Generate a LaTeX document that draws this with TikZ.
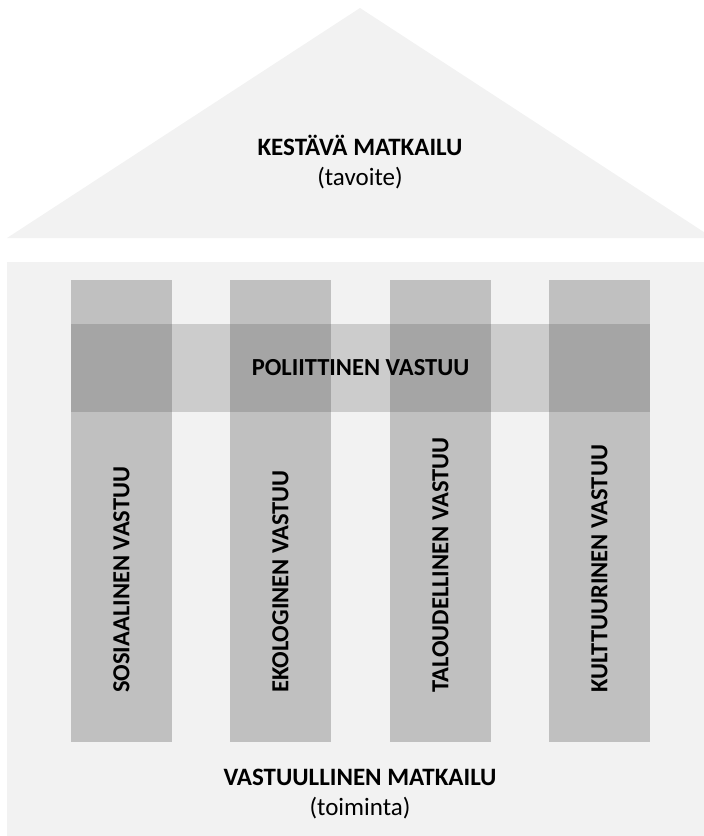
\documentclass[tikz,border=0pt]{standalone}
\usepackage{fontspec}
\setmainfont{Carlito}
\usepackage{tikz}
\definecolor{paleGray}{HTML}{F2F2F2}
\definecolor{pillarGray}{HTML}{C0C0C0}
\definecolor{bandGray}{HTML}{494949}
\tikzset{
    pillar/.style={rectangle, fill=pillarGray, draw=none,
    	minimum width=101pt, minimum height=462pt, inner sep=0pt}
}
\tikzset{
    pillartext/.style={rotate=90, anchor=west, inner sep=0pt,
    	font=\fontsize{24.5}{29}\selectfont\bfseries}
}
\tikzset{
    band/.style={rectangle, fill=bandGray, fill opacity=.22, text opacity=1,
    	draw=none, minimum width=579pt, minimum height=88pt, inner sep=0pt,
    	font=\fontsize{24.5}{29}\selectfont\bfseries}
}
\tikzset{
    title/.style={align=center, font=\fontsize{25}{30}\selectfont}
}

\begin{document}
\begin{tikzpicture}[x=1pt, y=-1pt]
  \useasboundingbox (0,0) rectangle (704,836);
  \fill[paleGray] (7,238) -- (360,8) -- (713,238) -- cycle;
  \fill[paleGray] (7,262) rectangle (704,836);

  \node (goal) [title] at (360,162) {\textbf{KESTÄVÄ MATKAILU}\\(tavoite)};
  \node (base) [title] at (360,794) {\textbf{VASTUULLINEN MATKAILU}\\(toiminta)};

  \node (sos) [pillar] at (121.5,511) {};
  \node (eko) [pillar] at (280.5,511) {};
  \node (tal) [pillar] at (440.5,511) {};
  \node (kul) [pillar] at (599.5,511) {};

  \node (sosT) [pillartext] at (sos.center |- 0,693) {SOSIAALINEN VASTUU};
  \node (ekoT) [pillartext] at (eko.center |- 0,693) {EKOLOGINEN VASTUU};
  \node (talT) [pillartext] at (tal.center |- 0,693) {TALOUDELLINEN VASTUU};
  \node (kulT) [pillartext] at (kul.center |- 0,693) {KULTTUURINEN VASTUU};

  \node (pol) [band] at (360.5,368) {POLIITTINEN VASTUU};
\end{tikzpicture}
\end{document}
